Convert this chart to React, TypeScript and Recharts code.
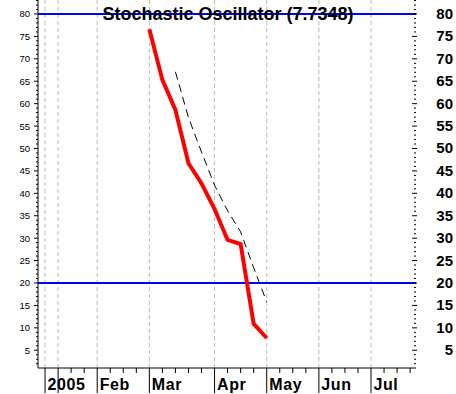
import { ComposedChart, Line, XAxis, YAxis, ReferenceLine } from "recharts";

// weekly bars, week 0 = first week of 2005
const weeks = [8, 9, 10, 11, 12, 13, 14, 15, 16, 17];
const kValues = [76.6, 65.3, 58.6, 46.7, 42.2, 36.5, 29.6, 28.7, 10.9, 7.73];
const dValues = [null, null, 67.1, 56.9, 49.2, 41.8, 36.1, 31.4, 23.4, 15.8];

const monthWeeks = [0, 4, 8, 13, 17, 21, 25];
const monthLabels = ["2005", "Feb", "Mar", "Apr", "May", "Jun", "Jul"];
const gridWeeks = [0, 1, 4, 8, 13, 17, 21, 25];
const weekTicks = Array.from({ length: 29 }, (_, i) => i);
const yTicks = Array.from({ length: 82 }, (_, i) => i + 2);
const levels = [80, 20];

const data = weeks.map((w, i) => ({ w, k: kValues[i], d: dValues[i] }));

const font = "'Liberation Sans', Arial, sans-serif";

const XTick = (props: any) => {
  const { x, y, payload } = props;
  const v = payload.value;
  const major = gridWeeks.includes(v);
  const idx = monthWeeks.indexOf(v);
  return (
    <g>
      <line x1={x} x2={x} y1={y} y2={y + (major ? 25 : 5)} stroke="#000" />
      {idx >= 0 && (
        <text x={x + 2.5} y={y + 22} fontSize={16} fontWeight="bold" fontFamily={font} fill="#000" letterSpacing={0.6}>
          {monthLabels[idx]}
        </text>
      )}
    </g>
  );
};

const LeftTick = (props: any) => {
  const { x, y, payload } = props;
  const major = payload.value % 5 === 0;
  return (
    <g>
      <line x1={x - (major ? 4 : 2)} x2={x} y1={y} y2={y} stroke="#000" />
      {major && (
        <text x={x - 8} y={y + 3.5} fontSize={9.5} fontFamily={font} textAnchor="end" fill="#000">
          {payload.value}
        </text>
      )}
    </g>
  );
};

const RightTick = (props: any) => {
  const { x, y, payload } = props;
  const major = payload.value % 5 === 0;
  return (
    <g>
      <line x1={x - (major ? 4 : 2)} x2={x + (major ? 1 : 0)} y1={y} y2={y} stroke="#000" />
      {major && (
        <text x={x + 37} y={y + 5} fontSize={15} fontWeight="bold" fontFamily={font} textAnchor="end" fill="#000">
          {payload.value}
        </text>
      )}
    </g>
  );
};

export default function App() {
  return (
    <div style={{ position: "absolute", left: 0, top: 0, width: 456, height: 394, background: "#fff" }}>
      <ComposedChart width={456} height={394} data={data} margin={{ top: 0, right: 0, bottom: 0, left: 0 }}>
        <XAxis
          dataKey="w"
          type="number"
          domain={[-0.54, 28.45]}
          allowDataOverflow
          ticks={weekTicks}
          interval={0}
          height={26}
          tickSize={0}
          tickMargin={0}
          tickLine={false}
          axisLine={{ stroke: "#000" }}
          tick={<XTick />}
        />
        <YAxis
          yAxisId="left"
          orientation="left"
          type="number"
          domain={[1.04, 83.12]}
          allowDataOverflow
          ticks={yTicks}
          interval={0}
          width={38}
          tickSize={0}
          tickMargin={0}
          tickLine={false}
          axisLine={{ stroke: "#000" }}
          tick={<LeftTick />}
        />
        <YAxis
          yAxisId="right"
          orientation="right"
          type="number"
          domain={[1.04, 83.12]}
          allowDataOverflow
          ticks={yTicks}
          interval={0}
          width={40}
          tickSize={0}
          tickMargin={0}
          tickLine={false}
          axisLine={false}
          tick={<RightTick />}
        />
        {gridWeeks.map((g) => (
          <ReferenceLine key={g} x={g} yAxisId="left" stroke="#b8b8b8" strokeDasharray="4 3" />
        ))}
        {levels.map((l) => (
          <ReferenceLine key={l} y={l} yAxisId="left" stroke="#0000ff" strokeWidth={2} />
        ))}
        <Line
          yAxisId="left"
          type="linear"
          dataKey="d"
          stroke="#000"
          strokeWidth={1}
          strokeDasharray="8 5"
          dot={false}
          isAnimationActive={false}
        />
        <Line
          yAxisId="left"
          type="linear"
          dataKey="k"
          stroke="#ff0000"
          strokeWidth={4}
          dot={false}
          isAnimationActive={false}
        />
      </ComposedChart>
      <svg width={456} height={40} style={{ position: "absolute", left: 0, top: 0, pointerEvents: "none" }}>
        <text x={228} y={20} textAnchor="middle" fontSize={18} fontWeight="bold" fontFamily={font} fill="#000">
          Stochastic Oscillator (7.7348)
        </text>
      </svg>
    </div>
  );
}
